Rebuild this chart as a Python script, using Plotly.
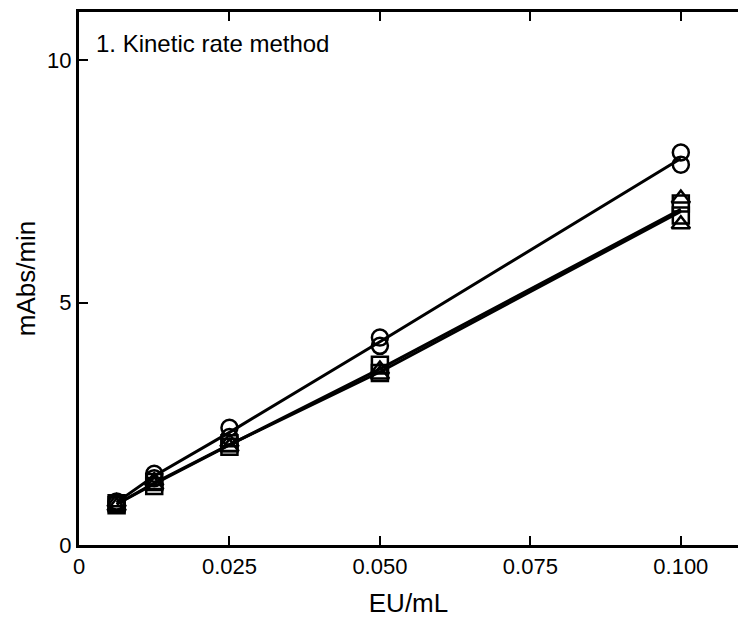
import plotly.graph_objects as go

conc = [0.00625, 0.0125, 0.025, 0.05, 0.1]
circle_a = [0.90, 1.47, 2.42, 4.28, 8.10]
circle_b = [0.86, 1.38, 2.23, 4.11, 7.85]
square_a = [0.86, 1.30, 2.10, 3.72, 7.05]
square_b = [0.82, 1.22, 2.03, 3.55, 6.80]
tri_a = [0.88, 1.32, 2.12, 3.62, 7.15]
tri_b = [0.80, 1.24, 2.02, 3.52, 6.62]

xticks = [0, 0.025, 0.05, 0.075, 0.1]
xtick_labels = ["0", "0.025", "0.050", "0.075", "0.100"]
yticks = [0, 5, 10]

fig = go.Figure()

def mean(a, b):
    return [(p + q) / 2 for p, q in zip(a, b)]

for a, b in [(circle_a, circle_b), (square_a, square_b), (tri_a, tri_b)]:
    fig.add_trace(go.Scatter(x=conc, y=mean(a, b), mode="lines",
                             line=dict(color="black", width=3), showlegend=False))

for ys, sym in [(circle_a, "circle-open"), (circle_b, "circle-open"),
                (square_a, "square-open"), (square_b, "square-open"),
                (tri_a, "triangle-up-open"), (tri_b, "triangle-up-open")]:
    fig.add_trace(go.Scatter(x=conc, y=ys, mode="markers",
                             marker=dict(symbol=sym, size=16, color="black",
                                         line=dict(color="black", width=2.5)),
                             showlegend=False))

fig.add_annotation(text="1. Kinetic rate method", x=0.00245, y=10.35, xref="x", yref="y",
                   showarrow=False, xanchor="left", yanchor="middle",
                   font=dict(size=24, color="black", family="Liberation Sans"))

fig.update_layout(
    width=738, height=618,
    margin=dict(l=79, r=0, t=12, b=73),
    plot_bgcolor="white", paper_bgcolor="white",
    font=dict(family="Liberation Sans", size=22, color="black"),
    xaxis=dict(range=[0, 0.1095], tickvals=xticks, ticktext=xtick_labels,
               ticks="inside", ticklen=9, tickwidth=2, tickcolor="black",
               showline=True, linecolor="black", linewidth=3, mirror="ticks",
               showgrid=False, zeroline=False,
               title=dict(text="EU/mL", font=dict(size=26), standoff=17)),
    yaxis=dict(range=[0, 11], tickvals=yticks,
               ticks="inside", ticklen=9, tickwidth=2, tickcolor="black",
               showline=True, linecolor="black", linewidth=3,
               showgrid=False, zeroline=False,
               title=dict(text="mAbs/min", font=dict(size=26), standoff=5)),
)

fig.write_html("out.html")
